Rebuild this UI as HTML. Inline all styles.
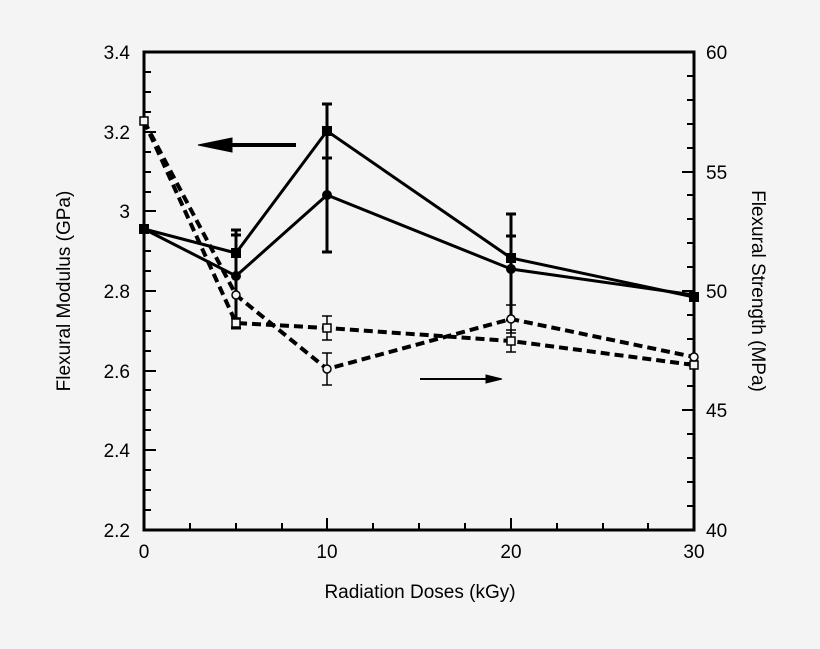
<!DOCTYPE html>
<html><head><style>body{margin:0;background:#f4f4f4}</style></head><body>
<svg width="820" height="644" xmlns="http://www.w3.org/2000/svg" font-family="Liberation Sans, sans-serif">
<rect width="820" height="644" fill="#f4f4f4"/>
<g stroke="#000" stroke-width="3" fill="none">
<rect x="144" y="52" width="550" height="478"/>
</g>
<g stroke="#000" stroke-width="2" id="ticks">
<!-- left ticks -->
<path d="M144 530h12M144 450h12M144 371h12M144 291h12M144 211h12M144 132h12M144 52h12"/>
<path d="M144 510h7M144 490h7M144 470h7M144 430h7M144 410h7M144 390h7M144 351h7M144 331h7M144 311h7M144 271h7M144 251h7M144 231h7M144 192h7M144 172h7M144 152h7M144 112h7M144 92h7M144 72h7"/>
<!-- right ticks -->
<path d="M694 530h-12M694 410h-12M694 291h-12M694 172h-12M694 52h-12"/>
<path d="M694 506h-7M694 482h-7M694 458h-7M694 434h-7M694 386h-7M694 363h-7M694 339h-7M694 315h-7M694 267h-7M694 243h-7M694 219h-7M694 195h-7M694 148h-7M694 124h-7M694 100h-7M694 76h-7"/>
<!-- bottom ticks -->
<path d="M144 530v-12M327 530v-12M511 530v-12M694 530v-12"/>
<path d="M190 530v-7M236 530v-7M282 530v-7M373 530v-7M419 530v-7M465 530v-7M557 530v-7M603 530v-7M648 530v-7"/>
</g>
<g font-size="19" fill="#000">
<g text-anchor="end">
<text x="130" y="537">2.2</text><text x="130" y="457">2.4</text><text x="130" y="378">2.6</text><text x="130" y="298">2.8</text><text x="130" y="218">3</text><text x="130" y="139">3.2</text><text x="130" y="59">3.4</text>
</g>
<text x="706" y="537">40</text><text x="706" y="417">45</text><text x="706" y="298">50</text><text x="706" y="179">55</text><text x="706" y="59">60</text>
<g text-anchor="middle">
<text x="144" y="558">0</text><text x="327" y="558">10</text><text x="511" y="558">20</text><text x="694" y="558">30</text>
<text x="420" y="598">Radiation Doses (kGy)</text>
</g>
<text transform="translate(70,291) rotate(-90)" text-anchor="middle">Flexural Modulus (GPa)</text>
<text transform="translate(752,291) rotate(90)" text-anchor="middle">Flexural Strength (MPa)</text>
</g>
<!-- error bars -->
<g stroke="#000" stroke-width="3">
<path d="M236 230v98M231 230h10M231 235h10M231 328h10"/>
<path d="M327 104v148M322 104h10M322 158h10M322 252h10"/>
<path d="M511 214v109M506 214h10M506 236h10M506 320h10"/>
</g>
<g stroke="#000" stroke-width="1.5">
<path d="M236 318v10M231 318h10M231 328h10"/>
<path d="M327 316v24M322 316h10M322 340h10"/>
<path d="M511 330v22M506 330h10M506 352h10"/>
<path d="M327 353v32M322 353h10M322 385h10"/>
<path d="M511 305v28M506 305h10M506 333h10"/>
</g>
<!-- solid series -->
<g stroke="#000" stroke-width="3" fill="none">
<polyline points="144,229 236,253 327,131 511,258 694,297"/>
<polyline points="144,229 236,276 327,195 511,269 694,295"/>
</g>
<g fill="#000">
<rect x="139" y="224" width="10" height="10"/><rect x="231" y="248" width="10" height="10"/><rect x="322" y="126" width="10" height="10"/><rect x="506" y="253" width="10" height="10"/><rect x="689" y="292" width="10" height="10"/>
<circle cx="236" cy="276" r="5"/><circle cx="327" cy="195" r="5"/><circle cx="511" cy="269" r="5"/>
</g>
<!-- dashed series -->
<g stroke="#000" stroke-width="4" fill="none" stroke-dasharray="9,5">
<polyline points="144,121 236,323 327,328 511,341 694,365"/>
<polyline points="144,121 236,295 327,369 511,319 694,357"/>
</g>
<g stroke="#000" stroke-width="1.5" fill="#f4f4f4">
<rect x="140" y="117" width="8" height="8"/><rect x="232" y="319" width="8" height="8"/><rect x="323" y="324" width="8" height="8"/><rect x="507" y="337" width="8" height="8"/><rect x="690" y="361" width="8" height="8"/>
<circle cx="236" cy="295" r="4"/><circle cx="327" cy="369" r="4"/><circle cx="511" cy="319" r="4"/><circle cx="694" cy="357" r="4"/>
</g>
<!-- arrows -->
<g fill="#000" stroke="#000">
<path d="M296 145H225" stroke-width="4"/>
<path d="M198 145L232 138L232 152Z"/>
<path d="M420 379H490" stroke-width="2"/>
<path d="M502 379L486 375L486 383Z"/>
</g>
</svg>
</body></html>
